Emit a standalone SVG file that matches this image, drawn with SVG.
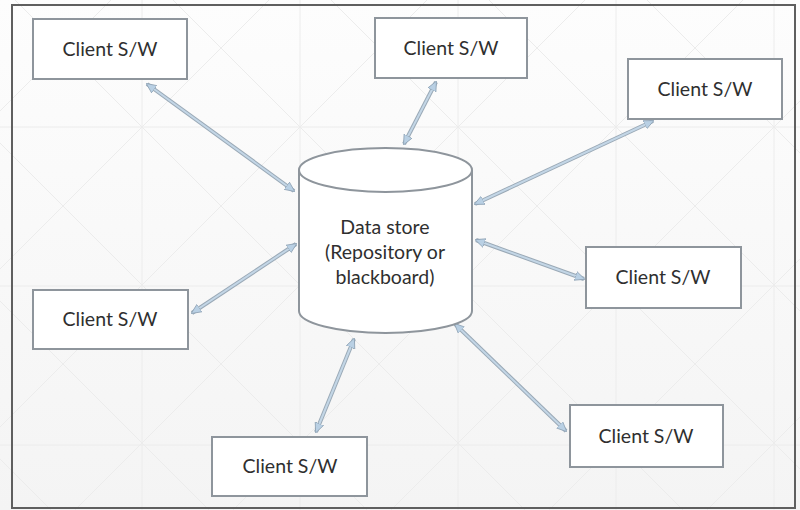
<svg xmlns="http://www.w3.org/2000/svg" width="800" height="510" viewBox="0 0 800 510">
  <style>
    .grid { stroke: #ececec; stroke-width: 1; fill: none; }
    .frame { fill: none; stroke: #5f5f5f; stroke-width: 2; }
    .box { fill: #ffffff; stroke: #8e959c; stroke-width: 2; }
    .store { fill: #ffffff; stroke: #8e959c; stroke-width: 2; }
    .label { font-family: "Lato", "Liberation Sans", sans-serif; font-size: 19.5px; fill: #2f2f2f; text-anchor: middle; }
    .link-edge { stroke: #9aa9b6; stroke-width: 4; stroke-linecap: butt; }
    .link { stroke: #c3d6e6; stroke-width: 2; marker-start: url(#head); marker-end: url(#head); }
  </style>
  <defs>
    <linearGradient id="bg" x1="0" y1="0" x2="0" y2="1">
      <stop offset="0" stop-color="#fdfdfd"/>
      <stop offset="1" stop-color="#f4f4f4"/>
    </linearGradient>
    <marker id="head" viewBox="0 0 10 10" refX="9" refY="5" markerWidth="10" markerHeight="10" markerUnits="userSpaceOnUse" orient="auto-start-reverse">
      <path d="M0,0.5 L10,5 L0,9.5 z" fill="#b9d0e4" stroke="#8fa3b5" stroke-width="0.8"/>
    </marker>
  </defs>

  <!-- background with faint lattice -->
  <rect x="0" y="0" width="800" height="510" fill="url(#bg)"/>
  <path class="grid" d="M142,0V510 M300,0V510 M458,0V510 M616,0V510 M774,0V510 M0,127H800 M0,286H800 M0,445H800
    M111,0L-399,510 M269,0L-241,510 M427,0L-83,510 M585,0L75,510 M743,0L233,510 M901,0L391,510 M1059,0L549,510 M1217,0L707,510 M1375,0L865,510
    M-459,0L51,510 M-301,0L209,510 M-143,0L367,510 M15,0L525,510 M173,0L683,510 M331,0L841,510 M489,0L999,510 M647,0L1157,510"/>

  <!-- outer frame -->
  <rect class="frame" x="12" y="5" width="783" height="503"/>

  <!-- connectors -->
  <g id="connectors">
    <line class="link-edge" x1="147" y1="84" x2="294" y2="191"/>
    <line class="link" x1="147" y1="84" x2="294" y2="191"/>
    <line class="link-edge" x1="436" y1="82" x2="404" y2="144"/>
    <line class="link" x1="436" y1="82" x2="404" y2="144"/>
    <line class="link-edge" x1="653" y1="121" x2="475" y2="204"/>
    <line class="link" x1="653" y1="121" x2="475" y2="204"/>
    <line class="link-edge" x1="476" y1="240" x2="584" y2="279"/>
    <line class="link" x1="476" y1="240" x2="584" y2="279"/>
    <line class="link-edge" x1="455" y1="324" x2="566" y2="431"/>
    <line class="link" x1="455" y1="324" x2="566" y2="431"/>
    <line class="link-edge" x1="354" y1="339" x2="316" y2="432"/>
    <line class="link" x1="354" y1="339" x2="316" y2="432"/>
    <line class="link-edge" x1="192" y1="313" x2="296" y2="244"/>
    <line class="link" x1="192" y1="313" x2="296" y2="244"/>
  </g>

  <!-- central data store -->
  <g id="data-store">
    <path class="store" d="M299,170 L299,311 A86.5,22 0 0 0 472,311 L472,170"/>
    <ellipse class="store" cx="385.5" cy="170" rx="86.5" ry="22"/>
    <text class="label" x="385" y="234">Data store</text>
    <text class="label" x="385" y="259">(Repository or</text>
    <text class="label" x="385" y="284">blackboard)</text>
  </g>

  <!-- clients -->
  <g id="client-top-left">
    <rect class="box" x="33" y="19" width="154" height="60"/>
    <text class="label" x="110" y="56">Client S/W</text>
  </g>
  <g id="client-top">
    <rect class="box" x="375" y="18" width="152" height="60"/>
    <text class="label" x="451" y="55">Client S/W</text>
  </g>
  <g id="client-top-right">
    <rect class="box" x="628" y="59" width="154" height="60"/>
    <text class="label" x="705" y="96">Client S/W</text>
  </g>
  <g id="client-right">
    <rect class="box" x="586" y="247" width="155" height="61"/>
    <text class="label" x="663" y="284">Client S/W</text>
  </g>
  <g id="client-bottom-right">
    <rect class="box" x="570" y="405" width="153" height="62"/>
    <text class="label" x="646" y="443">Client S/W</text>
  </g>
  <g id="client-bottom">
    <rect class="box" x="212" y="437" width="155" height="59"/>
    <text class="label" x="290" y="473">Client S/W</text>
  </g>
  <g id="client-left">
    <rect class="box" x="33" y="290" width="155" height="59"/>
    <text class="label" x="110" y="326">Client S/W</text>
  </g>
</svg>
